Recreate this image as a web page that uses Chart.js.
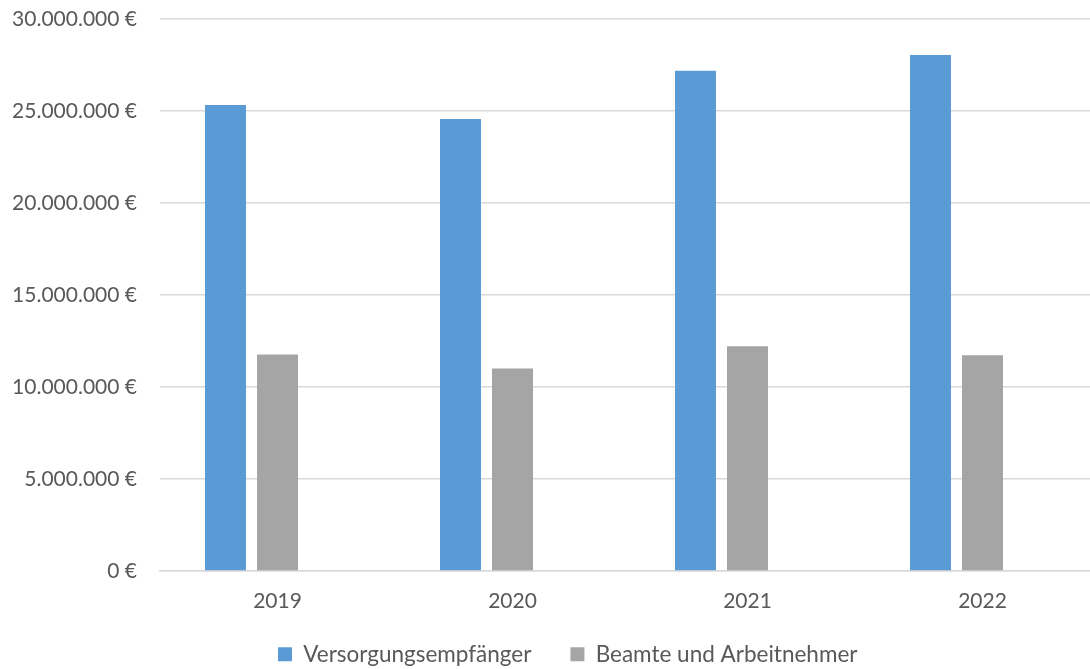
<!DOCTYPE html>
<html>
<head>
<meta charset="utf-8">
<script src="https://cdn.jsdelivr.net/npm/chart.js@4.4.1/dist/chart.umd.min.js"></script>
<style>
  html, body { margin: 0; padding: 0; background: #ffffff; overflow: hidden; }
  #wrap { position: relative; width: 1100px; height: 669px; }
</style>
</head>
<body>
<div id="wrap"><canvas id="c"></canvas></div>
<script>
const categories = ['2019', '2020', '2021', '2022'];
const versorgungsempfaenger = [25330000, 24570000, 27190000, 28050000];
const beamteUndArbeitnehmer = [11770000, 11010000, 12210000, 11720000];
const leereReihe = [null, null, null, null];
const seriesNames = ['Versorgungsempfänger', 'Beamte und Arbeitnehmer', ''];
const yTickLabels = ['0 €', '5.000.000 €', '10.000.000 €', '15.000.000 €', '20.000.000 €', '25.000.000 €', '30.000.000 €'];

const FONT = 'Lato, "Open Sans", sans-serif';
const TEXT = '#595959';

const legendPlacer = {
  id: 'legendPlacer',
  beforeInit(chart) {
    const l = chart.legend;
    if (l && !l._wrapped) {
      const f = l.fit;
      l.fit = function () { f.call(this); this.height = 0; };
      l._wrapped = true;
    }
  },
  beforeDraw(chart) {
    const l = chart.legend;
    if (!l) return;
    const pad = l.options.labels.padding;
    l.left = 278 - pad;
    l.right = 1100;
    l.top = 643 - pad;
    l.bottom = 669;
    l.width = l.right - l.left;
    l.height = l.bottom - l.top;
  }
};

new Chart(document.getElementById('c'), {
  type: 'bar',
  data: {
    labels: categories,
    datasets: [
      { label: seriesNames[0], data: versorgungsempfaenger, backgroundColor: '#5B9BD5' },
      { label: seriesNames[1], data: beamteUndArbeitnehmer, backgroundColor: '#A5A5A5' },
      { label: seriesNames[2], data: leereReihe, backgroundColor: '#FFFFFF' }
    ]
  },
  options: {
    responsive: true,
    maintainAspectRatio: false,
    animation: false,
    layout: { padding: { top: 19, right: 0, bottom: 0, left: 0 } },
    datasets: { bar: { categoryPercentage: 0.664, barPercentage: 0.788 } },
    scales: {
      x: {
        grid: { display: false, drawTicks: false },
        border: { display: true, color: '#D9D9D9', width: 1.5 },
        ticks: { color: TEXT, font: { family: FONT, size: 21 }, padding: 18 },
        afterFit(scale) { scale.height = 98; }
      },
      y: {
        min: 0, max: 30000000,
        ticks: {
          stepSize: 5000000,
          color: TEXT, font: { family: FONT, size: 21 }, padding: 23,
          callback: (v, i) => yTickLabels[i]
        },
        grid: { color: '#D9D9D9', lineWidth: 1.5, drawTicks: false },
        border: { display: false },
        afterFit(scale) { scale.width = 160; scale.paddingTop = 0; scale.paddingBottom = 0; }
      }
    },
    plugins: {
      tooltip: { enabled: false },
      legend: {
        position: 'bottom',
        align: 'start',
        labels: {
          color: TEXT,
          font: { family: FONT, size: 22.5 },
          boxWidth: 14, boxHeight: 14,
          padding: 39,
          filter: item => item.text !== ''
        }
      }
    }
  },
  plugins: [legendPlacer]
});
</script>
</body>
</html>
